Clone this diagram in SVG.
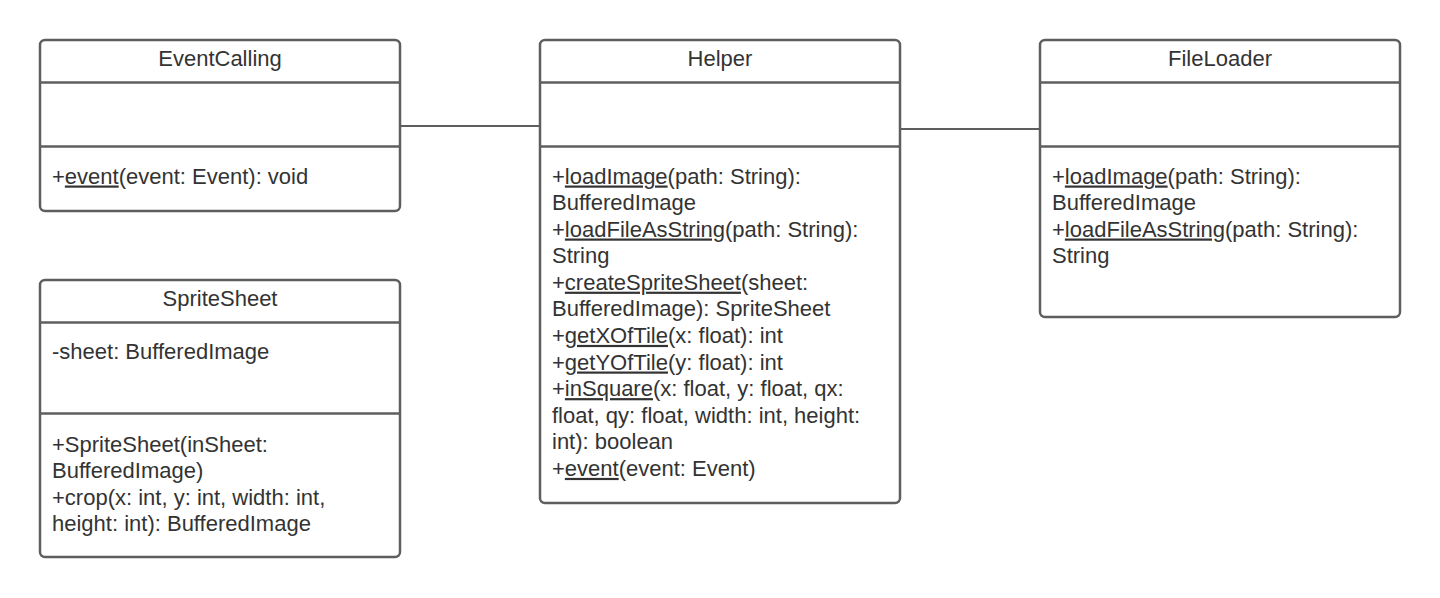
<svg xmlns="http://www.w3.org/2000/svg" width="1440" height="598" viewBox="0 0 1440 598">
<style>
.box{fill:#ffffff;stroke:#5e5e5e;stroke-width:2.5}
.div{stroke:#5e5e5e;stroke-width:2.5}
.conn{stroke:#5e5e5e;stroke-width:2;fill:none}
text{font-family:"Liberation Sans",Arial,sans-serif;font-size:22px;fill:#333333}
.t{text-anchor:middle}
.u{text-decoration:underline}
</style>
<rect width="1440" height="598" fill="#ffffff"/>
<g id="connectors">
<line class="conn" x1="400" y1="126" x2="540" y2="126"/>
<line class="conn" x1="900" y1="129" x2="1040" y2="129"/>
</g>
<g id="EventCalling">
<rect class="box" x="40" y="40" width="360" height="171" rx="5"/>
<line class="div" x1="40" y1="82.5" x2="400" y2="82.5"/>
<line class="div" x1="40" y1="146.5" x2="400" y2="146.5"/>
<text class="t" x="220" y="65.5">EventCalling</text>
<text x="52" y="183.5">+<tspan class="u">event</tspan>(event: Event): void</text>
</g>
<g id="Helper">
<rect class="box" x="540" y="40" width="360" height="463" rx="5"/>
<line class="div" x1="540" y1="82.5" x2="900" y2="82.5"/>
<line class="div" x1="540" y1="146.5" x2="900" y2="146.5"/>
<text class="t" x="720" y="65.5">Helper</text>
<text x="552" y="183.5">+<tspan class="u">loadImage</tspan>(path: String):</text>
<text x="552" y="210">BufferedImage</text>
<text x="552" y="236.5">+<tspan class="u">loadFileAsString</tspan>(path: String):</text>
<text x="552" y="263.1">String</text>
<text x="552" y="289.7">+<tspan class="u">createSpriteSheet</tspan>(sheet:</text>
<text x="552" y="316.3">BufferedImage): SpriteSheet</text>
<text x="552" y="342.9">+<tspan class="u">getXOfTile</tspan>(x: float): int</text>
<text x="552" y="369.5">+<tspan class="u">getYOfTile</tspan>(y: float): int</text>
<text x="552" y="396.1">+<tspan class="u">inSquare</tspan>(x: float, y: float, qx:</text>
<text x="552" y="422.7">float, qy: float, width: int, height:</text>
<text x="552" y="449.3">int): boolean</text>
<text x="552" y="475.9">+<tspan class="u">event</tspan>(event: Event)</text>
</g>
<g id="FileLoader">
<rect class="box" x="1040" y="40" width="360" height="277" rx="5"/>
<line class="div" x1="1040" y1="82.5" x2="1400" y2="82.5"/>
<line class="div" x1="1040" y1="146.5" x2="1400" y2="146.5"/>
<text class="t" x="1220" y="65.5">FileLoader</text>
<text x="1052" y="183.5">+<tspan class="u">loadImage</tspan>(path: String):</text>
<text x="1052" y="210">BufferedImage</text>
<text x="1052" y="236.5">+<tspan class="u">loadFileAsString</tspan>(path: String):</text>
<text x="1052" y="263.1">String</text>
</g>
<g id="SpriteSheet">
<rect class="box" x="40" y="280" width="360" height="277" rx="5"/>
<line class="div" x1="40" y1="322.5" x2="400" y2="322.5"/>
<line class="div" x1="40" y1="413.5" x2="400" y2="413.5"/>
<text class="t" x="220" y="305.5">SpriteSheet</text>
<text x="52" y="358.5">-sheet: BufferedImage</text>
<text x="52" y="451.5">+SpriteSheet(inSheet:</text>
<text x="52" y="478">BufferedImage)</text>
<text x="52" y="504.5">+crop(x: int, y: int, width: int,</text>
<text x="52" y="531">height: int): BufferedImage</text>
</g>
</svg>
